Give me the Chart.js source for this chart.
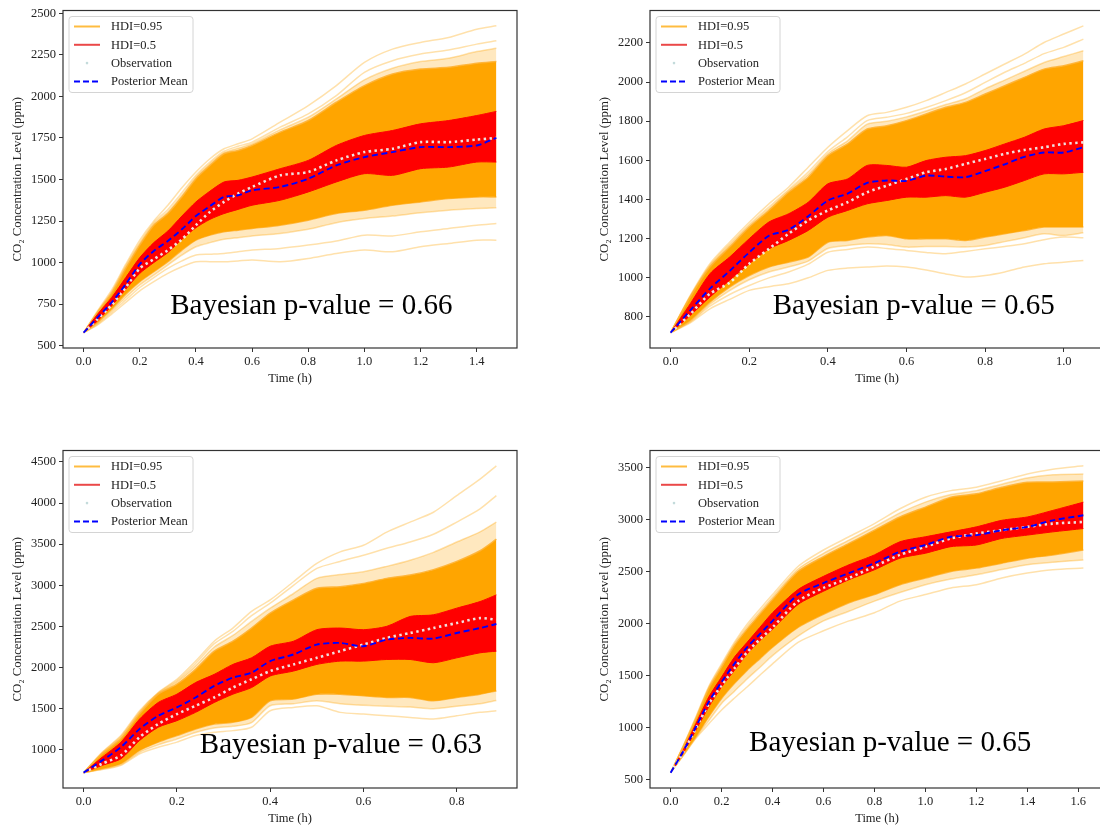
<!DOCTYPE html>
<html lang="en">
<head>
  <meta charset="utf-8" />
  <title>Posterior predictive checks</title>
  <script src="https://cdn.jsdelivr.net/npm/chart.js@4.4.4/dist/chart.umd.min.js"></script>
  <style>
    html, body { margin: 0; padding: 0; background: #fff; overflow: hidden; }
    #page { position: relative; width: 1100px; height: 832px; overflow: hidden; }
    .panel { position: absolute; width: 540px; height: 400px; }
  </style>
</head>
<body>
  <div id="page">
    <div class="panel" style="left:0;top:0"><canvas id="c1" width="540" height="400"></canvas></div>
    <div class="panel" style="left:587px;top:0"><canvas id="c2" width="540" height="400"></canvas></div>
    <div class="panel" style="left:0;top:440px"><canvas id="c3" width="540" height="400"></canvas></div>
    <div class="panel" style="left:587px;top:440px"><canvas id="c4" width="540" height="400"></canvas></div>
  </div>

  <script>
    // ---- panel 1 (top left) ----
    const t1 = [0, 0.05, 0.1, 0.15, 0.2, 0.25, 0.3, 0.35, 0.4, 0.45, 0.5, 0.55, 0.6, 0.7, 0.8, 0.9, 1.0, 1.1, 1.2, 1.3, 1.4, 1.47];
    const mean1 = [578, 670, 760, 870, 990, 1070, 1130, 1200, 1280, 1340, 1395, 1405, 1435, 1455, 1505, 1585, 1635, 1665, 1695, 1695, 1705, 1750];
    const obs1 = [578, 660, 745, 850, 965, 1020, 1075, 1140, 1225, 1305, 1365, 1415, 1455, 1525, 1545, 1615, 1665, 1685, 1725, 1725, 1740, 1750];
    const hi50_1 = [578, 690, 790, 910, 1030, 1120, 1190, 1280, 1365, 1430, 1485, 1495, 1515, 1565, 1615, 1705, 1765, 1795, 1835, 1855, 1885, 1910];
    const lo50_1 = [578, 650, 740, 840, 935, 1000, 1060, 1140, 1210, 1260, 1295, 1320, 1345, 1375, 1425, 1485, 1535, 1525, 1565, 1575, 1605, 1605];
    const hi95_1 = [578, 700, 815, 965, 1105, 1225, 1295, 1395, 1505, 1585, 1655, 1675, 1705, 1785, 1855, 1965, 2065, 2135, 2165, 2175, 2200, 2210];
    const lo95_1 = [578, 640, 720, 810, 885, 945, 1005, 1075, 1135, 1165, 1185, 1195, 1205, 1225, 1255, 1295, 1315, 1345, 1365, 1385, 1395, 1395];
    const tail1a = [578, 710, 835, 990, 1135, 1250, 1345, 1450, 1545, 1625, 1685, 1715, 1745, 1845, 1945, 2065, 2205, 2285, 2325, 2355, 2405, 2425];
    const tail1b = [578, 705, 825, 980, 1120, 1240, 1320, 1420, 1525, 1605, 1670, 1700, 1725, 1815, 1895, 2005, 2145, 2215, 2255, 2280, 2315, 2335];
    const tail1c = [578, 702, 820, 972, 1112, 1232, 1305, 1405, 1515, 1595, 1662, 1688, 1715, 1800, 1875, 1985, 2100, 2170, 2210, 2230, 2270, 2290];
    const tail1d = [578, 625, 690, 760, 830, 885, 935, 975, 1005, 1005, 1005, 1010, 1015, 1005, 1025, 1055, 1075, 1065, 1095, 1115, 1135, 1135];
    const tail1e = [578, 630, 700, 775, 850, 910, 965, 1010, 1045, 1050, 1055, 1065, 1075, 1085, 1105, 1130, 1165, 1160, 1185, 1205, 1225, 1235];
    const tail1f = [578, 635, 710, 790, 865, 925, 985, 1045, 1095, 1120, 1140, 1150, 1160, 1175, 1200, 1240, 1265, 1280, 1300, 1315, 1325, 1330];
    const xTicks1 = [0, 0.2, 0.4, 0.6, 0.8, 1.0, 1.2, 1.4];
    const yTicks1 = [500, 750, 1000, 1250, 1500, 1750, 2000, 2250, 2500];

    // ---- panel 2 (top right) ----
    const t2 = [0, 0.05, 0.1, 0.15, 0.2, 0.25, 0.3, 0.35, 0.4, 0.45, 0.5, 0.55, 0.6, 0.65, 0.7, 0.75, 0.8, 0.85, 0.9, 0.95, 1.0, 1.05];
    const mean2 = [720, 834, 945, 1035, 1130, 1215, 1245, 1315, 1395, 1430, 1485, 1497, 1495, 1522, 1517, 1514, 1545, 1580, 1618, 1640, 1640, 1667];
    const obs2 = [720, 815, 919, 975, 1072, 1148, 1225, 1293, 1344, 1386, 1437, 1471, 1505, 1539, 1556, 1582, 1607, 1633, 1653, 1667, 1684, 1692];
    const hi50_2 = [720, 868, 1021, 1106, 1200, 1285, 1327, 1386, 1480, 1505, 1574, 1574, 1565, 1599, 1616, 1624, 1650, 1684, 1718, 1760, 1777, 1803];
    const lo50_2 = [720, 808, 902, 987, 1072, 1148, 1191, 1242, 1310, 1344, 1378, 1395, 1412, 1412, 1420, 1412, 1437, 1463, 1497, 1531, 1531, 1539];
    const hi95_2 = [720, 902, 1055, 1157, 1259, 1344, 1437, 1514, 1624, 1684, 1760, 1777, 1803, 1837, 1871, 1896, 1939, 1981, 2024, 2066, 2083, 2109];
    const lo95_2 = [720, 783, 876, 953, 1012, 1055, 1080, 1106, 1182, 1191, 1208, 1216, 1199, 1199, 1199, 1191, 1208, 1225, 1242, 1259, 1259, 1259];
    const tail2a = [720, 910, 1072, 1182, 1284, 1378, 1463, 1565, 1667, 1752, 1828, 1845, 1871, 1905, 1947, 1990, 2041, 2092, 2143, 2202, 2245, 2287];
    const tail2b = [720, 906, 1064, 1172, 1272, 1362, 1450, 1540, 1645, 1720, 1803, 1820, 1840, 1870, 1905, 1945, 1998, 2050, 2095, 2145, 2177, 2219];
    const tail2c = [720, 904, 1060, 1165, 1266, 1352, 1444, 1527, 1635, 1700, 1785, 1800, 1822, 1852, 1885, 1915, 1965, 2010, 2055, 2100, 2130, 2160];
    const tail2d = [720, 770, 842, 890, 936, 955, 970, 1000, 1038, 1050, 1055, 1060, 1055, 1040, 1020, 1004, 1012, 1030, 1055, 1072, 1080, 1089];
    const tail2e = [720, 775, 855, 915, 961, 1000, 1030, 1070, 1131, 1145, 1157, 1150, 1140, 1130, 1123, 1135, 1148, 1160, 1174, 1195, 1208, 1205];
    const tail2f = [720, 778, 865, 935, 990, 1030, 1055, 1085, 1150, 1165, 1174, 1170, 1157, 1160, 1160, 1158, 1165, 1185, 1205, 1225, 1216, 1230];
    const xTicks2 = [0, 0.2, 0.4, 0.6, 0.8, 1.0];
    const yTicks2 = [800, 1000, 1200, 1400, 1600, 1800, 2000, 2200];

    // ---- panel 3 (bottom left) ----
    const t3 = [0, 0.04, 0.08, 0.12, 0.16, 0.2, 0.24, 0.28, 0.32, 0.36, 0.4, 0.45, 0.5, 0.55, 0.6, 0.65, 0.7, 0.75, 0.8, 0.85, 0.885];
    const mean3 = [722, 871, 1032, 1253, 1414, 1515, 1636, 1776, 1877, 1937, 2078, 2159, 2279, 2299, 2259, 2340, 2360, 2352, 2420, 2480, 2529];
    const obs3 = [722, 831, 932, 1153, 1314, 1434, 1535, 1636, 1756, 1857, 1957, 2038, 2118, 2199, 2279, 2360, 2420, 2480, 2541, 2601, 2581];
    const hi50_3 = [722, 911, 1093, 1374, 1575, 1676, 1817, 1917, 2038, 2118, 2259, 2320, 2460, 2480, 2460, 2501, 2621, 2641, 2722, 2802, 2883];
    const lo50_3 = [722, 811, 891, 1113, 1274, 1354, 1455, 1575, 1676, 1756, 1897, 1957, 2038, 2078, 2078, 2098, 2098, 2058, 2118, 2179, 2199];
    const hi95_3 = [722, 952, 1133, 1434, 1676, 1797, 1978, 2199, 2320, 2480, 2662, 2822, 2963, 2983, 3023, 3084, 3124, 3190, 3290, 3420, 3560];
    const lo95_3 = [722, 771, 831, 992, 1093, 1173, 1253, 1314, 1334, 1394, 1595, 1616, 1676, 1676, 1656, 1636, 1636, 1595, 1636, 1676, 1716];
    const tail3a = [722, 972, 1173, 1475, 1696, 1857, 2078, 2320, 2480, 2682, 2822, 3043, 3265, 3406, 3486, 3647, 3768, 3888, 4090, 4291, 4452];
    const tail3b = [722, 965, 1160, 1460, 1690, 1840, 2050, 2290, 2440, 2630, 2782, 3000, 3205, 3290, 3365, 3450, 3526, 3620, 3768, 3929, 4090];
    const tail3c = [722, 960, 1150, 1450, 1685, 1825, 2020, 2250, 2390, 2560, 2722, 2900, 3084, 3130, 3164, 3230, 3305, 3400, 3526, 3650, 3768];
    const tail3d = [722, 759, 811, 952, 1032, 1093, 1173, 1213, 1233, 1274, 1475, 1515, 1535, 1455, 1434, 1414, 1394, 1374, 1414, 1455, 1475];
    const tail3e = [722, 765, 820, 970, 1060, 1130, 1210, 1265, 1285, 1330, 1535, 1560, 1595, 1560, 1540, 1530, 1520, 1500, 1530, 1560, 1600];
    const xTicks3 = [0, 0.2, 0.4, 0.6, 0.8];
    const yTicks3 = [1000, 1500, 2000, 2500, 3000, 3500, 4000, 4500];

    // ---- panel 4 (bottom right) ----
    const t4 = [0, 0.05, 0.1, 0.15, 0.2, 0.25, 0.3, 0.35, 0.4, 0.5, 0.6, 0.7, 0.8, 0.9, 1.0, 1.1, 1.2, 1.3, 1.4, 1.5, 1.62];
    const mean4 = [570, 776, 1013, 1251, 1441, 1615, 1774, 1900, 2027, 2280, 2391, 2486, 2581, 2692, 2756, 2835, 2851, 2898, 2930, 2993, 3041];
    const obs4 = [570, 770, 1000, 1230, 1409, 1570, 1726, 1850, 1964, 2217, 2344, 2439, 2550, 2661, 2740, 2819, 2866, 2898, 2930, 2961, 2977];
    const hi50_4 = [570, 790, 1045, 1298, 1488, 1678, 1821, 1964, 2106, 2328, 2455, 2566, 2661, 2787, 2835, 2882, 2930, 2993, 3025, 3088, 3167];
    const lo50_4 = [570, 760, 982, 1203, 1393, 1552, 1710, 1837, 1948, 2185, 2312, 2423, 2518, 2629, 2677, 2740, 2756, 2819, 2851, 2882, 2914];
    const hi95_4 = [570, 823, 1092, 1378, 1583, 1789, 1948, 2090, 2233, 2502, 2645, 2771, 2898, 3025, 3120, 3215, 3247, 3310, 3358, 3360, 3370];
    const lo95_4 = [570, 744, 918, 1108, 1282, 1425, 1552, 1663, 1774, 1964, 2090, 2201, 2280, 2375, 2439, 2502, 2534, 2581, 2629, 2661, 2708];
    const tail4a = [570, 830, 1110, 1400, 1615, 1820, 1995, 2140, 2280, 2550, 2708, 2835, 2961, 3104, 3215, 3278, 3310, 3373, 3437, 3484, 3516];
    const tail4b = [570, 828, 1102, 1390, 1600, 1805, 1972, 2115, 2257, 2525, 2676, 2803, 2930, 3064, 3168, 3240, 3278, 3340, 3400, 3430, 3437];
    const tail4c = [570, 735, 902, 1040, 1172, 1285, 1393, 1505, 1615, 1821, 1932, 2027, 2106, 2217, 2280, 2344, 2375, 2439, 2486, 2518, 2534];
    const tail4d = [570, 740, 910, 1070, 1235, 1350, 1470, 1580, 1694, 1880, 2027, 2120, 2217, 2300, 2375, 2430, 2470, 2520, 2566, 2590, 2613];
    const xTicks4 = [0, 0.2, 0.4, 0.6, 0.8, 1.0, 1.2, 1.4, 1.6];
    const yTicks4 = [500, 1000, 1500, 2000, 2500, 3000, 3500];

    const pValues = ['0.66', '0.65', '0.63', '0.65'];
    const legendLabels = ['HDI=0.95', 'HDI=0.5', 'Observation', 'Posterior Mean'];

    const SERIF = "'Liberation Serif', 'Times New Roman', serif";
    Chart.defaults.font.family = SERIF;

    const ORANGE = '#ffa500';
    const RED = '#ff0000';
    const TAIL = 'rgba(255, 165, 0, 0.33)';
    const FRINGE = 'rgba(255, 165, 0, 0.25)';
    const OBS = 'rgba(236, 255, 255, 0.88)';

    // frame, p-value text and matplotlib-like legend
    const decor = {
      id: 'decor',
      afterDraw(chart, args, o) {
        const { ctx, chartArea: a } = chart;
        const w = a.right - a.left, h = a.bottom - a.top;
        ctx.save();
        ctx.strokeStyle = '#333';
        ctx.lineWidth = 1.2;
        ctx.strokeRect(a.left, a.top, w, h);

        ctx.font = '29px ' + SERIF;
        ctx.fillStyle = '#000';
        ctx.textAlign = 'center';
        ctx.textBaseline = 'middle';
        ctx.fillText('Bayesian p-value = ' + o.pvalue, a.left + o.px * w, a.top + o.py * h);

        // legend box
        const x0 = a.left + 6, y0 = a.top + 6, bw = 124, bh = 76;
        ctx.beginPath();
        ctx.roundRect(x0, y0, bw, bh, 3);
        ctx.fillStyle = 'rgba(255,255,255,0.85)';
        ctx.fill();
        ctx.strokeStyle = '#d4d4d4';
        ctx.lineWidth = 1;
        ctx.stroke();

        ctx.font = '12.5px ' + SERIF;
        ctx.textAlign = 'left';
        legendLabels.forEach((label, i) => {
          const y = y0 + 10 + i * 18.3;
          ctx.save();
          ctx.beginPath();
          if (i === 2) {
            ctx.fillStyle = 'rgba(190, 215, 215, 0.9)';
            ctx.arc(x0 + 18, y, 1.3, 0, Math.PI * 2);
            ctx.fill();
          } else {
            ctx.strokeStyle = ['rgba(255,165,0,0.75)', 'rgba(230,40,40,0.85)', '', '#0000ff'][i];
            ctx.lineWidth = i === 3 ? 2 : 2;
            if (i === 3) ctx.setLineDash([6, 3]);
            ctx.moveTo(x0 + 5, y);
            ctx.lineTo(x0 + 31, y);
            ctx.stroke();
          }
          ctx.restore();
          ctx.fillStyle = '#222';
          ctx.fillText(label, x0 + 42, y + 0.5);
        });
        ctx.restore();
      }
    };

    function series(t, ys, opts) {
      return Object.assign({
        data: t.map((x, i) => ({ x: x, y: ys[i] })),
        pointRadius: 0,
        tension: 0.25,
        fill: false
      }, opts);
    }

    function bounds(arrs) {
      const all = arrs.flat();
      const lo = Math.min(...all), hi = Math.max(...all);
      const m = (hi - lo) * 0.05;
      return [lo - m, hi + m];
    }

    function drawPanel(id, t, mean, obs, hi50, lo50, hi95, lo95, fringeHi, fringeLo, tails, xTicks, yTicks, pvalue, px, py) {
      const [xMin, xMax] = bounds([t]);
      const [yMin, yMax] = bounds([mean, obs, hi50, lo50, hi95, lo95, fringeHi, fringeLo].concat(tails));
      const tickFont = { family: SERIF, size: 12.5 };

      // index 0 is drawn on top, the last dataset at the bottom
      const datasets = [
        series(t, mean, { borderColor: '#0000ff', borderWidth: 1.9, borderDash: [6, 3.5] }),
        series(t, obs, { borderColor: OBS, borderWidth: 2.6, borderDash: [2.4, 3.4] }),
        series(t, hi50, { borderColor: RED, borderWidth: 1, backgroundColor: RED, fill: '+1' }),
        series(t, lo50, { borderColor: RED, borderWidth: 1 }),
        series(t, hi95, { borderColor: 'rgba(255,178,50,0.9)', borderWidth: 1.5, backgroundColor: ORANGE, fill: '+1' }),
        series(t, lo95, { borderColor: 'rgba(255,178,50,0.9)', borderWidth: 1.5 }),
        series(t, fringeHi, { borderColor: TAIL, borderWidth: 1.5, backgroundColor: FRINGE, fill: 4 }),
        series(t, fringeLo, { borderColor: TAIL, borderWidth: 1.5, backgroundColor: FRINGE, fill: 5 })
      ].concat(tails.map(tl => series(t, tl, { borderColor: TAIL, borderWidth: 1.5 })));

      new Chart(document.getElementById(id), {
        type: 'line',
        data: { datasets: datasets },
        plugins: [decor],
        options: {
          responsive: false,
          animation: false,
          events: [],
          layout: { padding: { top: 10, right: 23, left: 0, bottom: 0 } },
          plugins: {
            legend: { display: false },
            tooltip: { enabled: false },
            decor: { pvalue: pvalue, px: px, py: py }
          },
          scales: {
            x: {
              type: 'linear',
              min: xMin,
              max: xMax,
              afterBuildTicks: s => { s.ticks = xTicks.map(v => ({ value: v })); },
              afterFit: s => { s.height = 52; },
              grid: { display: true, drawOnChartArea: false, drawTicks: true, tickLength: 4, color: '#333' },
              border: { display: false },
              ticks: { font: tickFont, color: '#222', padding: 2, maxRotation: 0, autoSkip: false,
                       callback: v => v.toFixed(1) },
              title: { display: true, text: 'Time (h)', font: tickFont, color: '#222',
                       padding: { top: 0, bottom: 14 } }
            },
            y: {
              type: 'linear',
              min: yMin,
              max: yMax,
              afterBuildTicks: s => { s.ticks = yTicks.map(v => ({ value: v })); },
              afterFit: s => { s.width = 63; },
              grid: { display: true, drawOnChartArea: false, drawTicks: true, tickLength: 4, color: '#333' },
              border: { display: false },
              ticks: { font: tickFont, color: '#222', padding: 3, autoSkip: false,
                       callback: v => String(v) },
              title: { display: true, text: 'CO\u2082 Concentration Level (ppm)', font: { family: SERIF, size: 12.8 },
                       color: '#222', padding: { top: 10, bottom: 0 } }
            }
          }
        }
      });
    }

    drawPanel('c1', t1, mean1, obs1, hi50_1, lo50_1, hi95_1, lo95_1, tail1c, tail1f,
      [tail1a, tail1b, tail1d, tail1e], xTicks1, yTicks1, pValues[0], 0.547, 0.877);
    drawPanel('c2', t2, mean2, obs2, hi50_2, lo50_2, hi95_2, lo95_2, tail2c, tail2f,
      [tail2a, tail2b, tail2d, tail2e], xTicks2, yTicks2, pValues[1], 0.581, 0.877);
    drawPanel('c3', t3, mean3, obs3, hi50_3, lo50_3, hi95_3, lo95_3, tail3c, tail3e,
      [tail3a, tail3b, tail3d], xTicks3, yTicks3, pValues[2], 0.612, 0.873);
    drawPanel('c4', t4, mean4, obs4, hi50_4, lo50_4, hi95_4, lo95_4, tail4b, tail4d,
      [tail4a, tail4c], xTicks4, yTicks4, pValues[3], 0.529, 0.868);
  </script>
</body>
</html>
